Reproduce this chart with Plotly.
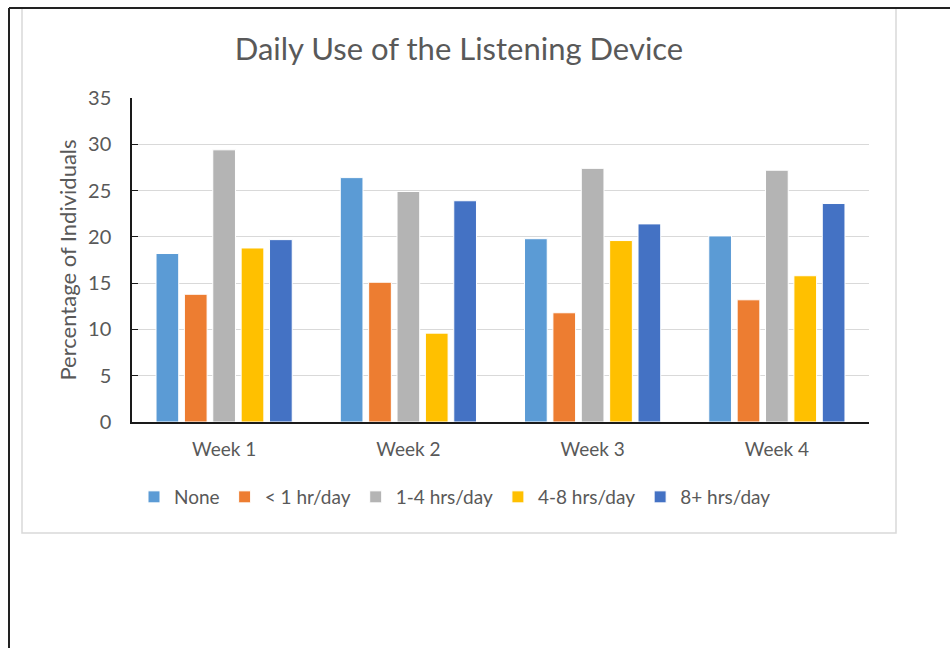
import plotly.graph_objects as go

weeks = ["Week 1", "Week 2", "Week 3", "Week 4"]
series_names = ["None", "< 1 hr/day", "1-4 hrs/day", "4-8 hrs/day", "8+ hrs/day"]
none_vals = [18.2, 26.4, 19.8, 20.1]
lt1_vals = [13.8, 15.1, 11.8, 13.2]
h1_4_vals = [29.4, 24.9, 27.4, 27.2]
h4_8_vals = [18.8, 9.6, 19.6, 15.8]
h8p_vals = [19.7, 23.9, 21.4, 23.6]
colors = ["#5B9BD5", "#ED7D31", "#B4B4B4", "#FFC000", "#4472C4"]
y_ticks = [0, 5, 10, 15, 20, 25, 30, 35]

W, H = 950, 648
L, R, T, B = 132, 869, 98, 422
FONT = "Lato"
GREY = "#595959"

def px(x):
    return (x - L) / (R - L)

def py(y):
    return (B - y) / (B - T)

fig = go.Figure()
for name, vals, c in zip(series_names, [none_vals, lt1_vals, h1_4_vals, h4_8_vals, h8p_vals], colors):
    fig.add_trace(go.Bar(x=weeks, y=vals, name=name, marker=dict(color=c, line=dict(color="white", width=1))))

shapes = [
    dict(type="rect", xref="paper", yref="paper", x0=px(22), x1=px(896), y0=py(533), y1=py(8),
         line=dict(color="#D9D9D9", width=1.5), layer="below"),
    dict(type="line", xref="paper", yref="paper", x0=px(9), x1=px(952), y0=py(8), y1=py(8),
         line=dict(color="#222222", width=2)),
    dict(type="line", xref="paper", yref="paper", x0=px(9), x1=px(9), y0=py(8), y1=py(652),
         line=dict(color="#222222", width=2)),
]

fig.update_layout(
    width=W, height=H,
    margin=dict(l=L, r=W - R, t=T, b=H - B, pad=0),
    paper_bgcolor="white", plot_bgcolor="white",
    barmode="group", bargap=0.23, bargroupgap=0.2,
    font=dict(family=FONT, color=GREY, size=17),
    title=dict(text="Daily Use of the Listening Device", xref="container", x=459 / W, xanchor="center",
               yref="container", y=1 - 49 / H, yanchor="middle", font=dict(size=31, color=GREY, family=FONT)),
    xaxis=dict(showline=True, linecolor="#1a1a1a", linewidth=1.5, ticks="", showgrid=False,
               tickfont=dict(size=19, color=GREY), ticklabelstandoff=9),
    yaxis=dict(range=[0, 35], tickvals=y_ticks, showline=True, linecolor="#1a1a1a", linewidth=1.5,
               ticks="inside", ticklen=6, tickcolor="#1a1a1a", showgrid=True, gridcolor="#D9D9D9",
               gridwidth=1, zeroline=False, tickfont=dict(size=20, color=GREY), ticklabelstandoff=15,
               title=dict(text="Percentage of Individuals", font=dict(size=22, color=GREY), standoff=5)),
    legend=dict(orientation="h", x=px(134), xanchor="left", y=py(497), yanchor="middle",
                font=dict(size=19, color=GREY), itemwidth=30, traceorder="normal"),
    shapes=shapes,
)

fig.write_html("out.html")
